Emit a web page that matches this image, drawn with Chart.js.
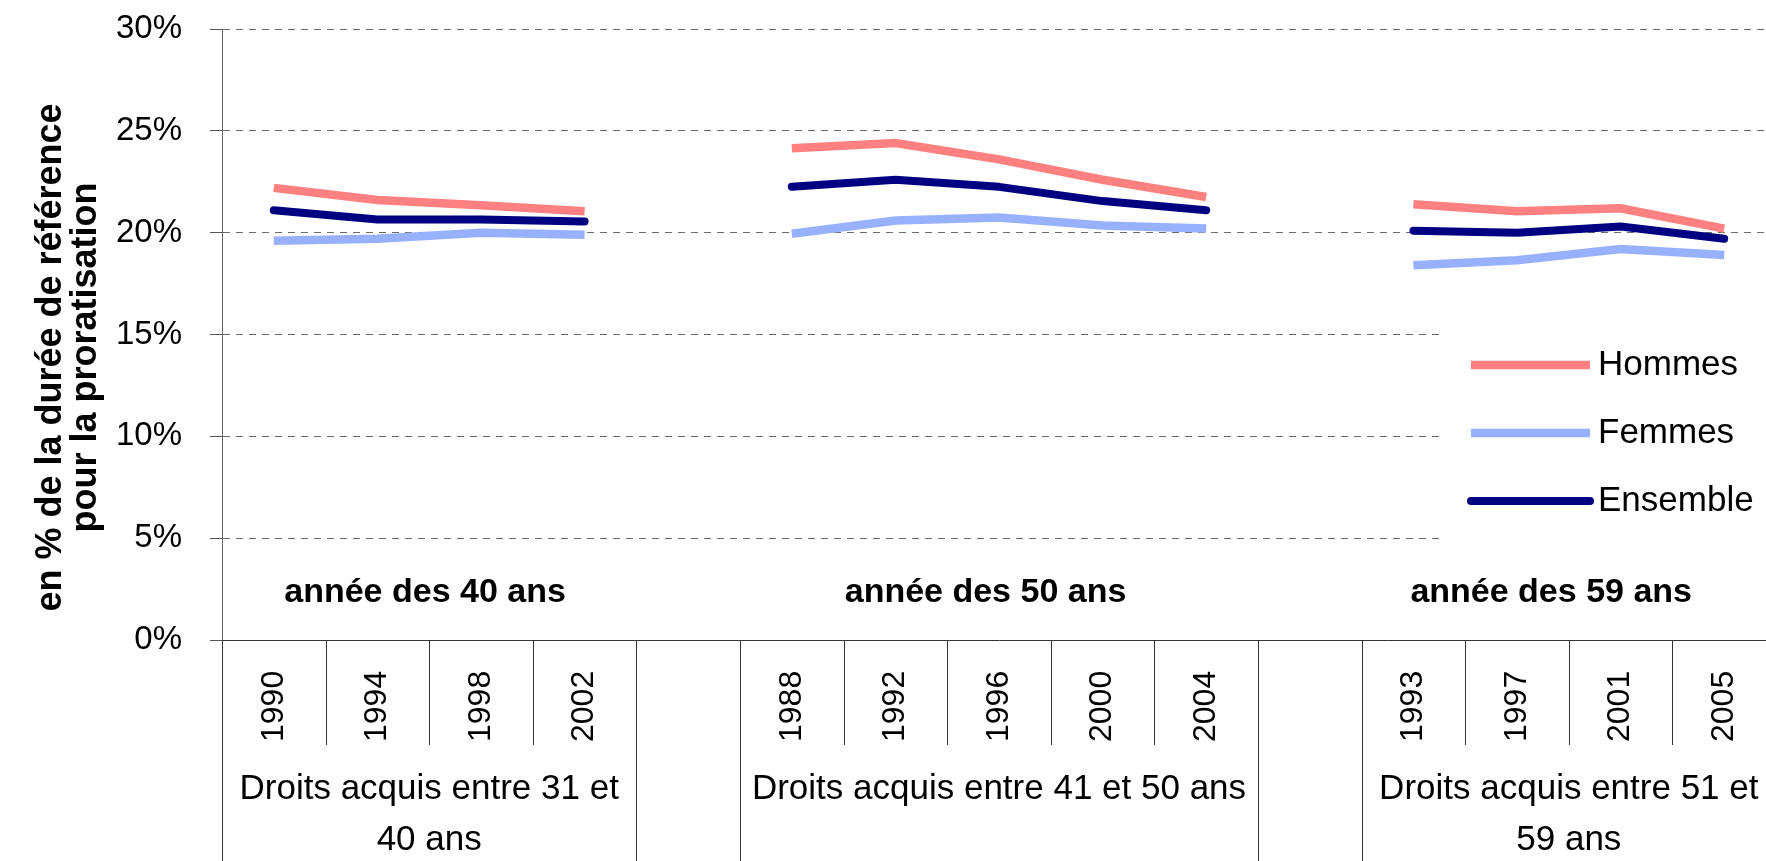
<!DOCTYPE html>
<html>
<head>
<meta charset="utf-8">
<script src="https://cdn.jsdelivr.net/npm/chart.js@4.4.0/dist/chart.umd.min.js"></script>
<style>
  html, body { margin: 0; padding: 0; background: #fff; overflow: hidden; }
  #wrap { width: 1776px; height: 861px; }
</style>
</head>
<body>
<div id="wrap"><canvas id="chart" width="1776" height="861"></canvas></div>
<script>
// --- Data (percent) ---
const years = ['1990', '1994', '1998', '2002', '', '1988', '1992', '1996', '2000', '2004', '', '1993', '1997', '2001', '2005'];
const hommes   = [22.2, 21.6, 21.35, 21.05, null, 24.15, 24.4, 23.6, 22.6, 21.75, null, 21.4, 21.05, 21.2, 20.2];
const femmes   = [19.6, 19.7, 20.0, 19.9, null, 19.95, 20.6, 20.75, 20.35, 20.2, null, 18.4, 18.65, 19.2, 18.9];
const ensemble = [21.1, 20.65, 20.65, 20.55, null, 22.25, 22.6, 22.25, 21.55, 21.1, null, 20.1, 20.0, 20.3, 19.7];

// second level of the category axis
const groupLabels = [['Droits acquis entre 31 et', '40 ans'], [], ['Droits acquis entre 41 et 50 ans'], [], ['Droits acquis entre 51 et', '59 ans']];
const groupSizes = [4, 1, 5, 1, 4];
const ageLabels = ['année des 40 ans', 'année des 50 ans', 'année des 59 ans'];
const yTitle = ['en % de la durée de référence', 'pour la proratisation'];

const FONT = "'Liberation Sans', Arial, sans-serif";
Chart.defaults.font.family = FONT;
Chart.defaults.color = '#000';

// --- Custom axis drawing: multi-level categories, titles, legend ---
const decor = {
    id: 'decor',
    afterDraw(chart) {
        const ctx = chart.ctx;
        const xs = chart.scales.x;
        const area = chart.chartArea;
        const slot = xs.getPixelForValue(1) - xs.getPixelForValue(0);
        const edge = i => xs.getPixelForValue(0) - slot / 2 + i * slot;

        ctx.save();
        // separators below the axis
        const groupEdges = new Set([0]);
        let n = 0;
        groupSizes.forEach(s => { n += s; groupEdges.add(n); });
        ctx.strokeStyle = '#333';
        ctx.lineWidth = 1;
        for (let i = 0; i <= years.length; i++) {
            const px = Math.round(edge(i)) + 0.5;
            const end = groupEdges.has(i) ? chart.height : area.bottom + 105;
            ctx.beginPath();
            ctx.moveTo(px, area.bottom);
            ctx.lineTo(px, end);
            ctx.stroke();
        }

        // rotated year labels
        ctx.fillStyle = '#000';
        ctx.font = '32px ' + FONT;
        ctx.textAlign = 'left';
        ctx.textBaseline = 'middle';
        years.forEach((y, i) => {
            if (!y) return;
            ctx.save();
            ctx.translate(xs.getPixelForValue(i), area.bottom + 102);
            ctx.rotate(-Math.PI / 2);
            ctx.fillText(y, 0, 0);
            ctx.restore();
        });

        // group labels
        ctx.font = '35px ' + FONT;
        ctx.textAlign = 'center';
        let start = 0;
        groupSizes.forEach((s, g) => {
            const cx = (edge(start) + edge(start + s)) / 2;
            groupLabels[g].forEach((line, k) => {
                ctx.fillText(line, cx, area.bottom + 149 + k * 51);
            });
            start += s;
        });

        // "année des .. ans" annotations
        ctx.font = 'bold 34px ' + FONT;
        [1.46, 6.87, 12.33].forEach((pos, k) => {
            ctx.fillText(ageLabels[k], edge(pos + 0.5), area.bottom - 47);
        });

        // y axis title
        ctx.save();
        ctx.translate(0, (area.top + area.bottom) / 2 + 23);
        ctx.rotate(-Math.PI / 2);
        ctx.font = 'bold 36px ' + FONT;
        ctx.fillText(yTitle[0], 0, 51);
        ctx.fillText(yTitle[1], 0, 86);
        ctx.restore();

        // legend box
        const lx = 1443, ly = 300;
        ctx.fillStyle = '#fff';
        ctx.fillRect(lx, ly, chart.width - lx, 265);
        chart.data.datasets.forEach((ds, k) => {
            const yy = 365 + k * 68;
            ctx.beginPath();
            ctx.strokeStyle = ds.borderColor;
            ctx.lineWidth = ds.borderWidth;
            ctx.lineCap = ds.borderCapStyle;
            ctx.moveTo(1471, yy);
            ctx.lineTo(1590, yy);
            ctx.stroke();
            ctx.fillStyle = '#000';
            ctx.font = '35px ' + FONT;
            ctx.textAlign = 'left';
            ctx.fillText(ds.label, 1598, yy);
        });
        ctx.restore();
    }
};

const ctx = document.getElementById('chart').getContext('2d');
new Chart(ctx, {
    type: 'line',
    data: {
        labels: years,
        datasets: [
            { label: 'Hommes', data: hommes, borderColor: '#FF8080', borderWidth: 8.5, borderCapStyle: 'butt', borderJoinStyle: 'miter' },
            { label: 'Femmes', data: femmes, borderColor: '#97B1FF', borderWidth: 8.5, borderCapStyle: 'butt', borderJoinStyle: 'miter' },
            { label: 'Ensemble', data: ensemble, borderColor: '#000080', borderWidth: 8, borderCapStyle: 'round', borderJoinStyle: 'round' }
        ]
    },
    options: {
        responsive: false,
        animation: false,
        spanGaps: false,
        elements: { point: { radius: 0 }, line: { tension: 0 } },
        layout: { padding: { top: 29, bottom: 213, left: 0, right: 0 } },
        plugins: { legend: { display: false }, tooltip: { enabled: false } },
        scales: {
            x: {
                offset: true,
                ticks: { display: false },
                grid: { display: false },
                border: { display: true, color: '#333', width: 1 }
            },
            y: {
                min: 0,
                max: 30,
                ticks: { stepSize: 5, callback: v => v + '%', font: { size: 33 }, padding: 28, color: '#000' },
                grid: { color: '#6a6a6a', lineWidth: 1, tickLength: 12, tickColor: '#555' },
                border: { display: true, color: '#666', width: 1, dash: [7, 6] },
                afterFit: s => { s.width = 222; s.paddingTop = 0; s.paddingBottom = 0; }
            }
        }
    },
    plugins: [decor]
});
</script>
</body>
</html>
